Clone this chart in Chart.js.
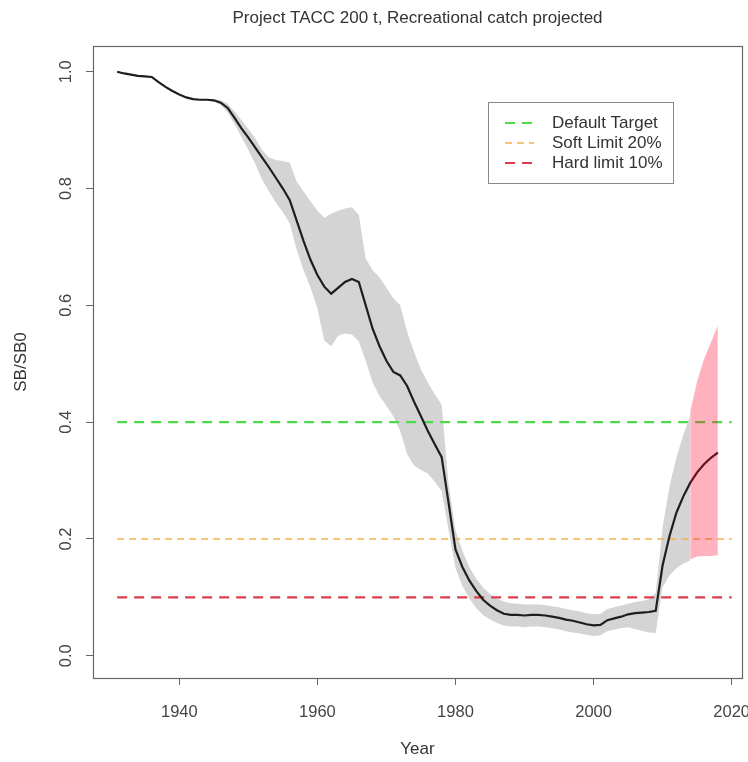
<!DOCTYPE html>
<html>
<head>
<meta charset="utf-8">
<script src="https://cdn.jsdelivr.net/npm/chart.js@4.4.1/dist/chart.umd.min.js"></script>
<style>
  html, body { margin: 0; padding: 0; background: #fff; }
</style>
</head>
<body>
<canvas id="myChart" width="748" height="762"></canvas>
<script>
const years = [
  1931, 1932, 1933, 1934, 1935, 1936, 1937, 1938, 1939, 1940,
  1941, 1942, 1943, 1944, 1945, 1946, 1947, 1948, 1949, 1950,
  1951, 1952, 1953, 1954, 1955, 1956, 1957, 1958, 1959, 1960,
  1961, 1962, 1963, 1964, 1965, 1966, 1967, 1968, 1969, 1970,
  1971, 1972, 1973, 1974, 1975, 1976, 1977, 1978, 1979, 1980,
  1981, 1982, 1983, 1984, 1985, 1986, 1987, 1988, 1989, 1990,
  1991, 1992, 1993, 1994, 1995, 1996, 1997, 1998, 1999, 2000,
  2001, 2002, 2003, 2004, 2005, 2006, 2007, 2008, 2009, 2010,
  2011, 2012, 2013, 2014, 2015, 2016, 2017, 2018
];

// median SB/SB0
const sbRatio = [
  1.000, 0.997, 0.995, 0.993, 0.992, 0.991, 0.982, 0.974, 0.967, 0.961,
  0.956, 0.953, 0.952, 0.952, 0.951, 0.947, 0.938, 0.921, 0.903, 0.887,
  0.870, 0.853, 0.836, 0.818, 0.800, 0.780, 0.745, 0.710, 0.678, 0.652,
  0.632, 0.620, 0.630, 0.640, 0.645, 0.640, 0.600, 0.560, 0.530, 0.505,
  0.486, 0.480, 0.462, 0.435, 0.410, 0.385, 0.362, 0.340, 0.262, 0.182,
  0.152, 0.129, 0.111, 0.096, 0.086, 0.078, 0.072, 0.070, 0.070, 0.069,
  0.070, 0.070, 0.069, 0.067, 0.065, 0.062, 0.060, 0.057, 0.054, 0.052,
  0.053, 0.061, 0.064, 0.067, 0.071, 0.073, 0.074, 0.075, 0.077, 0.155,
  0.205, 0.245, 0.273, 0.296, 0.314, 0.328, 0.339, 0.348
];

// grey credible interval, 1931-2014
const ciUpper = [
  1.001, 0.998, 0.996, 0.994, 0.993, 0.992, 0.983, 0.975, 0.968, 0.962,
  0.957, 0.954, 0.953, 0.953, 0.953, 0.951, 0.945, 0.932, 0.917, 0.902,
  0.886, 0.866, 0.853, 0.849, 0.847, 0.844, 0.812, 0.795, 0.778, 0.762,
  0.750, 0.757, 0.762, 0.766, 0.768, 0.755, 0.680, 0.660, 0.648, 0.630,
  0.612, 0.600, 0.555, 0.520, 0.490, 0.468, 0.448, 0.430, 0.295, 0.215,
  0.180, 0.152, 0.132, 0.117, 0.106, 0.098, 0.093, 0.090, 0.089, 0.088,
  0.088, 0.088, 0.087, 0.085, 0.083, 0.080, 0.078, 0.076, 0.073, 0.071,
  0.072, 0.080, 0.083, 0.086, 0.089, 0.092, 0.094, 0.097, 0.108, 0.220,
  0.290, 0.340, 0.378, 0.412
];
const ciLower = [
  0.999, 0.996, 0.994, 0.992, 0.991, 0.990, 0.981, 0.973, 0.966, 0.960,
  0.955, 0.952, 0.951, 0.951, 0.949, 0.943, 0.930, 0.910, 0.888, 0.866,
  0.842, 0.815, 0.795, 0.775, 0.760, 0.740, 0.695, 0.660, 0.630, 0.595,
  0.540, 0.530, 0.548, 0.552, 0.550, 0.538, 0.505, 0.468, 0.445, 0.428,
  0.410, 0.385, 0.345, 0.326, 0.318, 0.312, 0.298, 0.282, 0.215, 0.150,
  0.120, 0.098, 0.082, 0.070, 0.062, 0.056, 0.052, 0.050, 0.050, 0.049,
  0.050, 0.050, 0.049, 0.047, 0.045, 0.042, 0.040, 0.038, 0.036, 0.034,
  0.035, 0.042, 0.045, 0.047, 0.049, 0.046, 0.043, 0.040, 0.039, 0.118,
  0.138, 0.150, 0.158, 0.163
];

// projection interval (pink)
const projYears = [2014, 2015, 2016, 2017, 2018];
const projUpper = [0.418, 0.470, 0.508, 0.537, 0.565];
const projLower = [0.165, 0.170, 0.171, 0.171, 0.172];

// reference lines
const refLabels = ['Default Target', 'Soft Limit 20%', 'Hard limit 10%'];
const refValues = [0.4, 0.2, 0.1];
const refColors = ['#4cd94c', '#f4b04c', '#dc3c50'];
const refSpan = [1931, 2020];

const xTicks = [1940, 1960, 1980, 2000, 2020];
const yTicks = [0, 0.2, 0.4, 0.6, 0.8, 1.0];

const FONT = '"Liberation Sans", Arial, sans-serif';
const toPts = (xs, ys) => ys.map((v, i) => ({ x: xs[i], y: v }));

const refDatasets = refValues.map((v, i) => ({
  label: refLabels[i],
  data: refSpan.map(x => ({ x: x, y: v })),
  borderColor: refColors[i],
  borderWidth: i == 1 ? 1.5 : 2.2,
  borderDash: i == 1 ? [7, 5] : [10, 7],
  pointRadius: 0,
  fill: false,
  order: 3
}));

// plot box, y labels rotated like R, and the legend
const extras = {
  id: 'extras',
  afterDraw(chart) {
    const ctx = chart.ctx;
    const a = chart.chartArea;
    ctx.save();
    ctx.strokeStyle = '#666';
    ctx.lineWidth = 1.2;
    ctx.strokeRect(a.left + 0.5, a.top + 0.5, a.right - a.left, a.bottom - a.top);

    const ys = chart.scales.y;
    ctx.fillStyle = '#444';
    ctx.font = '16.5px ' + FONT;
    ctx.textAlign = 'center';
    ctx.textBaseline = 'middle';
    yTicks.forEach(v => {
      const py = ys.getPixelForValue(v);
      ctx.save();
      ctx.translate(66, py);
      ctx.rotate(-Math.PI / 2);
      ctx.fillText(v.toFixed(1), 0, 0);
      ctx.restore();
    });

    // legend
    const bx = 488, by = 102, bw = 185, bh = 81;
    ctx.fillStyle = '#fff';
    ctx.fillRect(bx, by, bw, bh);
    ctx.strokeStyle = '#888';
    ctx.lineWidth = 1;
    ctx.strokeRect(bx + 0.5, by + 0.5, bw, bh);
    ctx.font = '17px ' + FONT;
    ctx.textAlign = 'left';
    refDatasets.forEach((d, i) => {
      const ry = by + 21 + i * 20;
      ctx.beginPath();
      ctx.setLineDash(d.borderDash);
      ctx.strokeStyle = d.borderColor;
      ctx.lineWidth = d.borderWidth;
      ctx.moveTo(505, ry);
      ctx.lineTo(534, ry);
      ctx.stroke();
      ctx.setLineDash([]);
      ctx.fillStyle = '#333';
      ctx.fillText(d.label, 552, ry);
    });
    ctx.restore();
  }
};

const ctx = document.getElementById('myChart').getContext('2d');
const myChart = new Chart(ctx, {
  type: 'line',
  data: {
    datasets: [
      {
        label: 'SB/SB0',
        data: toPts(years, sbRatio),
        borderColor: '#1e1e1e',
        borderWidth: 2.2,
        pointRadius: 0,
        fill: false,
        order: 2
      },
      ...refDatasets,
      {
        label: 'ci lower',
        data: toPts(years, ciLower),
        borderWidth: 0,
        borderColor: 'rgba(0,0,0,0)',
        pointRadius: 0,
        fill: false,
        order: 5
      },
      {
        label: 'ci upper',
        data: toPts(years, ciUpper),
        borderWidth: 0,
        borderColor: 'rgba(0,0,0,0)',
        pointRadius: 0,
        fill: '-1',
        backgroundColor: '#d4d4d4',
        order: 5
      },
      {
        label: 'proj lower',
        data: toPts(projYears, projLower),
        borderWidth: 0,
        borderColor: 'rgba(0,0,0,0)',
        pointRadius: 0,
        fill: false,
        order: 1
      },
      {
        label: 'proj upper',
        data: toPts(projYears, projUpper),
        borderWidth: 0,
        borderColor: 'rgba(0,0,0,0)',
        pointRadius: 0,
        fill: '-1',
        backgroundColor: 'rgba(255,0,40,0.3)',
        order: 1
      }
    ]
  },
  options: {
    responsive: false,
    animation: false,
    devicePixelRatio: 1,
    layout: { padding: { left: 0, right: 6, top: 0, bottom: 0 } },
    plugins: {
      legend: { display: false },
      tooltip: { enabled: false },
      title: {
        display: true,
        text: 'Project TACC 200 t, Recreational catch projected',
        fullSize: false,
        color: '#333',
        font: { family: FONT, size: 17, weight: 'normal' },
        padding: { top: 8, bottom: 17.6 }
      }
    },
    scales: {
      x: {
        type: 'linear',
        min: 1927.5,
        max: 2021.5,
        afterBuildTicks: s => { s.ticks = xTicks.map(v => ({ value: v })); },
        afterFit: s => { s.height = 84; s.paddingLeft = 0; s.paddingRight = 0; },
        ticks: {
          color: '#444',
          font: { family: FONT, size: 16.5 },
          padding: 18,
          maxRotation: 0,
          autoSkip: false,
          callback: v => String(v)
        },
        grid: { drawOnChartArea: false, drawTicks: true, tickLength: 7, color: '#666', tickColor: '#666' },
        border: { display: false },
        title: {
          display: true,
          text: 'Year',
          color: '#333',
          font: { family: FONT, size: 17 },
          padding: { top: 0, bottom: 2 }
        }
      },
      y: {
        type: 'linear',
        min: -0.038,
        max: 1.044,
        afterBuildTicks: s => { s.ticks = yTicks.map(v => ({ value: v })); },
        afterFit: s => { s.width = 93; s.paddingTop = 0; s.paddingBottom = 0; },
        ticks: { display: false },
        grid: { drawOnChartArea: false, drawTicks: true, tickLength: 7, color: '#666', tickColor: '#666' },
        border: { display: false },
        title: {
          display: true,
          text: 'SB/SB0',
          color: '#333',
          font: { family: FONT, size: 17 },
          padding: { top: 11, bottom: 0 }
        }
      }
    }
  },
  plugins: [extras]
});
</script>
</body>
</html>
